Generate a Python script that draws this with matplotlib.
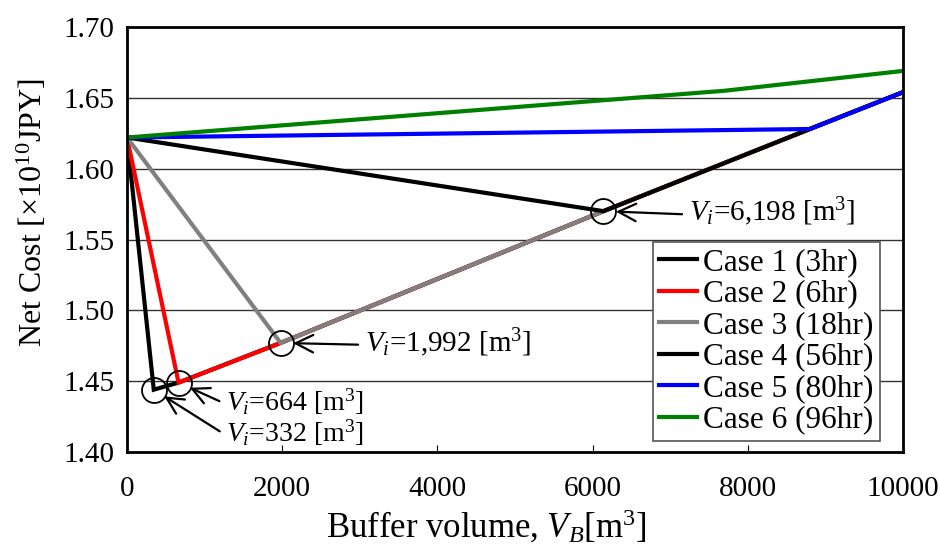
import matplotlib
matplotlib.use('Agg')
import matplotlib.pyplot as plt

plt.rcParams['font.family'] = 'Liberation Serif'
plt.rcParams['mathtext.fontset'] = 'custom'
plt.rcParams['mathtext.rm'] = 'Liberation Serif'
plt.rcParams['mathtext.it'] = 'Liberation Serif:italic'

# data
case1_x = [0, 345, 664, 1980, 6140, 8800, 10000]
case1_y = [1.622, 1.444, 1.449, 1.477, 1.570, 1.628, 1.654]
case2_x = [0, 664, 1980, 6140, 8800, 10000]
case2_y = [1.622, 1.449, 1.477, 1.570, 1.628, 1.654]
case3_x = [0, 1980, 6140, 8800, 10000]
case3_y = [1.622, 1.477, 1.570, 1.628, 1.654]
case4_x = [0, 6140, 8800, 10000]
case4_y = [1.622, 1.570, 1.628, 1.654]
case5_x = [0, 8800, 10000]
case5_y = [1.622, 1.628, 1.654]
case6_x = [0, 7700, 10000]
case6_y = [1.622, 1.655, 1.669]

labels = ['Case 1 (3hr)', 'Case 2 (6hr)', 'Case 3 (18hr)',
          'Case 4 (56hr)', 'Case 5 (80hr)', 'Case 6 (96hr)']
colors = ['black', '#ff0000', '#808080', 'black', '#0000ff', '#008000']

opt_x = [345, 664, 1980, 6140]
opt_y = [1.444, 1.449, 1.477, 1.570]
opt_text = [r'$V_i$=332 [m$^3$]', r'$V_i$=664 [m$^3$]',
            r'$V_i$=1,992 [m$^3$]', r'$V_i$=6,198 [m$^3$]']
text_pos = [(1276, 1.4135), (1276, 1.4355), (3067, 1.4775), (7242, 1.5695)]
text_size = [20, 20, 21, 21]

fig = plt.figure(figsize=(9.4, 5.52), dpi=100)
ax = fig.add_axes([127 / 940, 1 - 452 / 552, 776 / 940, 425 / 552])

xs = [case1_x, case2_x, case3_x, case4_x, case5_x, case6_x]
ys = [case1_y, case2_y, case3_y, case4_y, case5_y, case6_y]
for x, y, c, l in zip(xs, ys, colors, labels):
    ax.plot(x, y, color=c, lw=3, label=l, solid_joinstyle='miter')

ax.plot(opt_x, opt_y, 'o', ms=18, mfc='none', mec='black', mew=1.3)

for px, py, t, (tx, ty), fs in zip(opt_x, opt_y, opt_text, text_pos, text_size):
    ax.annotate(t, xy=(px, py), xytext=(tx, ty), fontsize=fs,
                va='center', ha='left',
                arrowprops=dict(arrowstyle='->,head_length=0.6,head_width=0.3',
                                color='black', lw=1.6, relpos=(0, 0.42),
                                shrinkA=3, shrinkB=9))

ax.set_xlim(0, 10000)
ax.set_ylim(1.40, 1.70)
ax.set_xticks([0, 2000, 4000, 6000, 8000, 10000])
ax.set_yticks([1.40, 1.45, 1.50, 1.55, 1.60, 1.65, 1.70])
ax.set_yticklabels(['%.2f' % v for v in ax.get_yticks()])
ax.tick_params(axis='x', direction='in', length=5, labelsize=21, pad=17)
ax.tick_params(axis='y', length=0, labelsize=21, pad=9)
ax.grid(axis='y', color='#333333', lw=1)
ax.set_axisbelow(True)
for s in ax.spines.values():
    s.set_linewidth(2)

fig.text(486 / 940, 1 - 527 / 552, r'Buffer volume, $V_B$[m$^3$]',
         fontsize=25, ha='center', va='center')
fig.text(32 / 940, 1 - 213 / 552, r'Net Cost [$\times$10$^{10}$JPY]',
         fontsize=23, ha='center', va='center', rotation=90)

leg = ax.legend(loc='lower right', bbox_to_anchor=(0.970, 0.026), fontsize=22.5,
                handlelength=1.2, handletextpad=0.2, labelspacing=0.08,
                borderpad=0.2, borderaxespad=0, fancybox=False, framealpha=1)
leg.get_frame().set_edgecolor('#555555')
leg.get_frame().set_linewidth(1.2)

fig.savefig('out.png', dpi=100)
